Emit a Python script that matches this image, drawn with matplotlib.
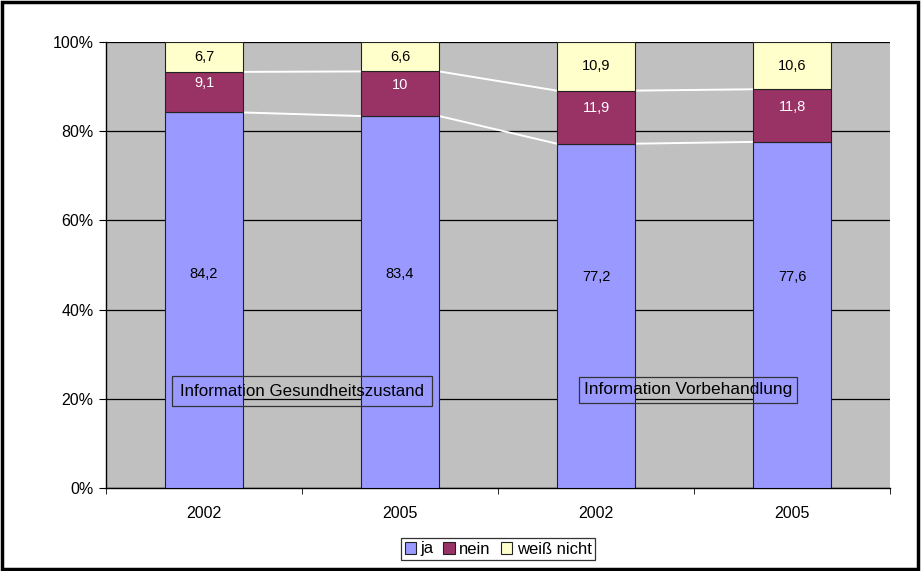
import matplotlib.pyplot as plt
import numpy as np

years = ["2002", "2005", "2002", "2005"]
ja = [84.2, 83.4, 77.2, 77.6]
nein = [9.1, 10, 11.9, 11.8]
weiss = [6.7, 6.6, 10.9, 10.6]
series_names = ["ja", "nein", "weiß nicht"]
colors = ["#9999FF", "#993366", "#FFFFCC"]
label_colors = ["black", "white", "black"]
yticks = [0, 20, 40, 60, 80, 100]

plt.rcParams["font.family"] = ["Liberation Sans", "DejaVu Sans"]

fig = plt.figure(figsize=(9.21, 5.71), dpi=100)
ax = fig.add_axes([106/921, 1 - 488/571, 784/921, 446/571])
ax.set_facecolor("#C0C0C0")

x = np.arange(len(years))
w = 0.4
bottom = np.zeros(len(years))
tops = []
for vals, col, lc, name in zip([ja, nein, weiss], colors, label_colors, series_names):
    vals = np.array(vals)
    ax.bar(x, vals, w, bottom=bottom, color=col, edgecolor="#222222", linewidth=0.8,
           label=name, zorder=3)
    for xi, b, v in zip(x, bottom, vals):
        mid = b + v / 2
        if name == "ja":
            mid = 48 if v > 80 else 47.4
        elif name == "nein":
            mid += 2
        txt = ("%g" % v).replace(".", ",")
        ax.text(xi, mid, txt, ha="center", va="center", fontsize=10.5, color=lc, zorder=4)
    bottom = bottom + vals
    tops.append(bottom.copy())

# series lines between bars
for t in tops[:2]:
    for i in range(len(x) - 1):
        ax.plot([x[i] + w/2, x[i+1] - w/2], [t[i], t[i+1]], color="white", lw=1.4, zorder=2)

ax.set_xlim(-0.5, len(years) - 0.5)
ax.set_ylim(0, 100)
ax.set_yticks(yticks)
ax.set_yticklabels(["%d%%" % v for v in yticks], fontsize=11.5)
ax.set_xticks(x)
ax.set_xticklabels(years, fontsize=11.5)
ax.tick_params(axis="x", length=0, pad=13)
ax.tick_params(axis="y", length=5, direction="out", pad=4)
ax.yaxis.grid(True, color="black", lw=0.9, zorder=1)
ax.set_axisbelow(True)
for s in ["top", "right"]:
    ax.spines[s].set_visible(False)
ax.spines["left"].set_linewidth(1)
ax.spines["bottom"].set_linewidth(1)

# minor ticks on x between categories
ax.set_xticks(np.arange(-0.5, len(years), 1), minor=True)
ax.tick_params(axis="x", which="minor", length=4, direction="out")

ax.text(0.5, 21.7, "Information Gesundheitszustand", ha="center", va="center", fontsize=12.2,
        bbox=dict(boxstyle="square,pad=0.45", fc="none", ec="#333333", lw=0.9), zorder=5)
ax.text(2.47, 22, "Information Vorbehandlung", ha="center", va="center", fontsize=12.4,
        bbox=dict(boxstyle="square,pad=0.3", fc="none", ec="#333333", lw=0.9), zorder=5)

leg = fig.legend(loc="center", bbox_to_anchor=(498/921, 1 - 549/571), ncol=3, fontsize=12,
                 frameon=True, fancybox=False, shadow=False, handlelength=0.7, handleheight=0.7,
                 handletextpad=0.25, columnspacing=0.6, borderpad=0.2)
leg.get_frame().set_edgecolor("black")
leg.get_frame().set_linewidth(0.9)

# outer border
fig.patches.append(plt.Rectangle((0.002, 0.003), 0.995, 0.994, transform=fig.transFigure,
                                 fill=False, ec="black", lw=2.5))

fig.savefig("out.png", dpi=100)
